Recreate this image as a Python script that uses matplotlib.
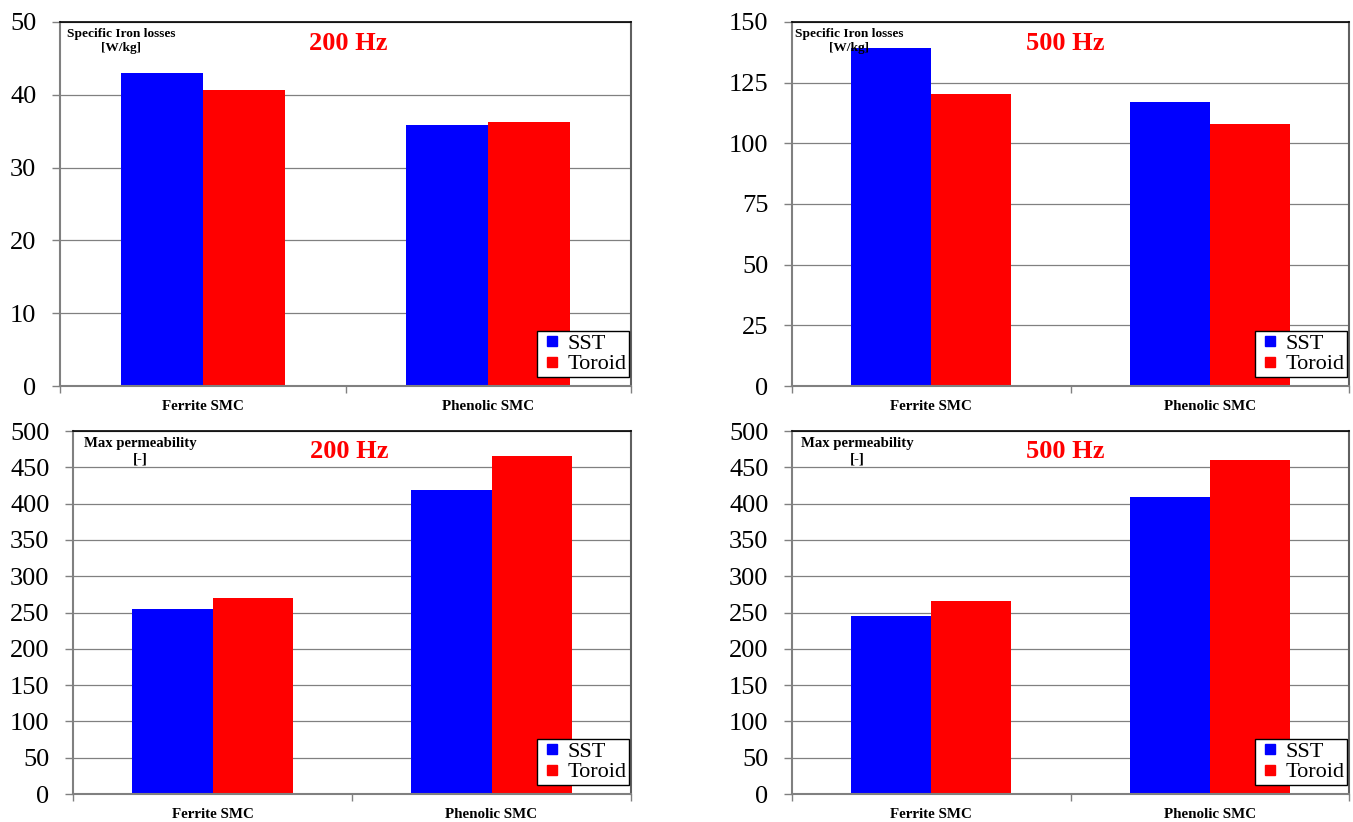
import matplotlib
matplotlib.use("Agg")
import matplotlib.pyplot as plt
from matplotlib.lines import Line2D
import numpy as np

plt.rcParams['font.family'] = ['Liberation Serif', 'DejaVu Serif']

categories = ["Ferrite SMC", "Phenolic SMC"]
series_names = ["SST", "Toroid"]

loss_200_sst = [43.0, 35.9]
loss_200_toroid = [40.7, 36.3]
loss_500_sst = [139.3, 117.0]
loss_500_toroid = [120.3, 108.0]
perm_200_sst = [255, 419]
perm_200_toroid = [270, 465]
perm_500_sst = [245, 409]
perm_500_toroid = [266, 460]

W, H = 1353, 822
fig = plt.figure(figsize=(W / 100, H / 100), dpi=100)


def add_ax(l, r, t, b):
    return fig.add_axes([l / W, 1 - b / H, (r - l) / W, (b - t) / H])


panels = [
    ((60, 631, 22, 386), loss_200_sst, loss_200_toroid, 50, 10,
     "Specific Iron losses\n[W/kg]", "200 Hz", 121.5, 9.6, 348, 44),
    ((792, 1349, 22, 386), loss_500_sst, loss_500_toroid, 150, 25,
     "Specific Iron losses\n[W/kg]", "500 Hz", 849, 9.6, 1065.5, 44),
    ((73, 631, 431, 794), perm_200_sst, perm_200_toroid, 500, 50,
     "Max permeability\n[-]", "200 Hz", 140, 10.6, 349, 451),
    ((792, 1349, 431, 794), perm_500_sst, perm_500_toroid, 500, 50,
     "Max permeability\n[-]", "500 Hz", 857, 10.6, 1065.5, 451),
]

colors = ["#0000FF", "#FF0000"]
bw = 0.287
x = np.arange(len(categories))
for (l, r, t, b), sst, tor, ymax, step, label, freq, lx, lfs, fx, fy in panels:
    ax = add_ax(l, r, t, b)
    wpx, hpx = r - l, b - t
    ax.bar(x - bw / 2, sst, width=bw, color=colors[0], label=series_names[0], zorder=2)
    ax.bar(x + bw / 2, tor, width=bw, color=colors[1], label=series_names[1], zorder=2)
    ax.set_xlim(-0.5, 1.5)
    ax.set_ylim(0, ymax)
    ax.set_yticks(np.arange(0, ymax + step / 2, step))
    ax.yaxis.grid(True, color="#808080", linewidth=0.9, zorder=0)
    ax.set_axisbelow(True)
    ax.tick_params(axis="y", labelsize=19, length=6, color="#808080", width=1, pad=11)
    # x ticks at category boundaries, labels at centers
    ax.set_xticks([-0.5, 0.5, 1.5])
    ax.set_xticklabels([])
    ax.set_xticks(x, minor=True)
    ax.set_xticklabels(categories, minor=True, fontsize=10.8, fontweight="bold")
    ax.tick_params(axis="x", which="major", length=5, color="#808080", width=1)
    ax.tick_params(axis="x", which="minor", length=0, pad=10)
    for s in ["left", "bottom"]:
        ax.spines[s].set_color("#808080")
        ax.spines[s].set_linewidth(1.5)
    ax.spines["top"].set_color("black")
    ax.spines["top"].set_linewidth(1.2)
    ax.spines["right"].set_color("#606060")
    ax.spines["right"].set_linewidth(1.5)
    ax.text((lx - l) / wpx, 1 - 6 / hpx, label, transform=ax.transAxes, ha="center", va="top",
            fontsize=lfs, fontweight="bold", linespacing=1.2, zorder=5)
    ax.text((fx - l) / wpx, 1 - (fy - t) / hpx, freq, transform=ax.transAxes,
            ha="center", va="center", fontsize=19, fontweight="bold", color="#FF0000")
    handles = [Line2D([], [], linestyle="none", marker="s", markersize=7,
                      markerfacecolor=c, markeredgecolor=c) for c in colors]
    leg = ax.legend(handles, series_names, loc="lower right",
                    bbox_to_anchor=(1 - 2 / wpx, 9 / hpx),
                    fontsize=16, frameon=True, fancybox=False, framealpha=1,
                    edgecolor="black", borderaxespad=0, handlelength=1.15,
                    handletextpad=0.1, labelspacing=0.0, borderpad=0.12)
    leg.get_frame().set_linewidth(1.0)

fig.savefig("out.png", dpi=100)
